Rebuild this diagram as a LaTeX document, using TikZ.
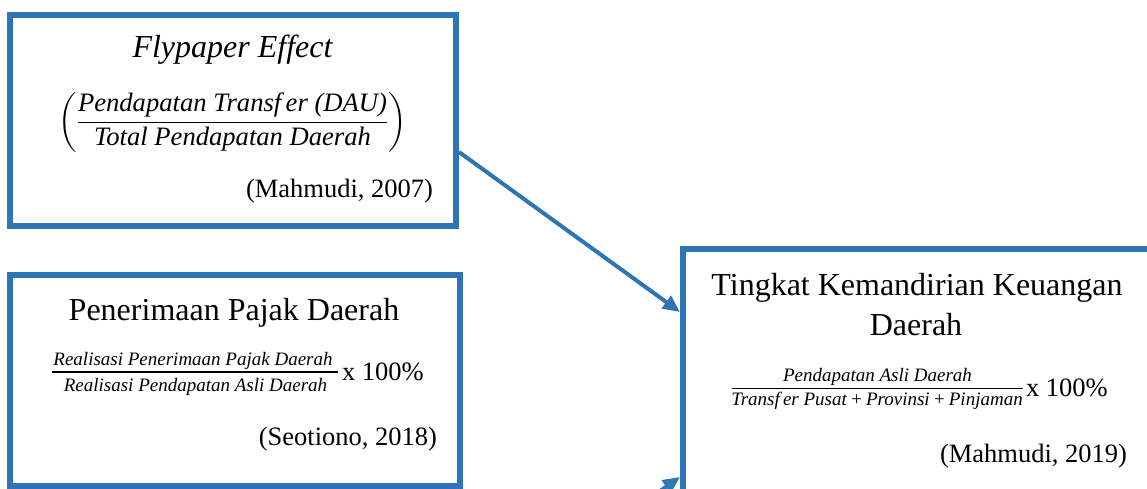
\documentclass[tikz,border=0pt]{standalone}
\usepackage{amsmath}
\usepackage{fontspec}
\setmainfont{Liberation Serif}
\usetikzlibrary{arrows.meta}
\definecolor{bblue}{HTML}{2E75B6}
\newcommand\ttlfont{\fontsize{32}{40}\selectfont}
\newcommand\citfont{\fontsize{26.5}{32}\selectfont}
\newcommand\smallfrm{\fontsize{19}{23}\selectfont\itshape}
\newcommand\pctfont{\fontsize{26.5}{32}\selectfont}
\tikzset{
  boxnode/.style={draw=bblue, line width=6pt, inner sep=0pt, fill=white},
  txt/.style={inner sep=0pt, outer sep=0pt},
  fterm/.style={txt, anchor=base, font=\smallfrm},
  fbar/.style={draw=black, line width=1.1pt},
  arr/.style={draw=bblue, line width=4pt, -{Triangle[length=17pt,width=15pt]}}
}
\begin{document}
\begin{tikzpicture}[x=1pt,y=-1pt]
\useasboundingbox (0,0) rectangle (1147,489);
\clip (0,0) rectangle (1147,489);
% boxes
\node[boxnode, minimum width=446pt, minimum height=211pt] (b1) at (233,120.5) {};
\node[boxnode, minimum width=450pt, minimum height=211pt] (b2) at (235,380.5) {};
\node[boxnode, minimum width=507pt, minimum height=280pt] (b3) at (936.5,389) {};
% box 1
\node[txt, anchor=base] (t1) at (232.5,58) {\ttlfont\itshape Flypaper Effect};
\node[txt, anchor=center] (f1) at (232.5,122) {\fontsize{26.6}{32}\selectfont
  $\left(\dfrac{\text{\itshape Pendapatan Transf\,er (DAU)}}{\text{\itshape Total Pendapatan Daerah}}\right)$};
\node[txt, anchor=base east] (c1) at (433,197) {\citfont (Mahmudi, 2007)};
% box 2
\node[txt, anchor=base] (t2) at (234,320) {\ttlfont Penerimaan Pajak Daerah};
\node[fterm] (n2) at (193,365) {Realisasi Penerimaan Pajak Daerah};
\node[fterm] (d2) at (195.5,391) {Realisasi Pendapatan Asli Daerah};
\draw[fbar] (52,372) -- (338,372);
\node[txt, anchor=base west] (p2) at (342,380) {\pctfont x 100\%};
\node[txt, anchor=base east] (c2) at (437,445) {\citfont (Seotiono, 2018)};
% box 3
\node[txt, anchor=base] (t3a) at (917,295) {\ttlfont Tingkat Kemandirian Keuangan};
\node[txt, anchor=base] (t3b) at (916,335) {\ttlfont Daerah};
\node[fterm] (n3) at (877.5,381) {Pendapatan Asli Daerah};
\node[fterm] (d3) at (877,405) {Transf\,er Pusat\,+\,Provinsi\,+\,Pinjaman};
\draw[fbar] (732,388.5) -- (1023,388.5);
\node[txt, anchor=base west] (p3) at (1026,396) {\pctfont x 100\%};
\node[txt, anchor=base east] (c3) at (1127,462) {\citfont (Mahmudi, 2019)};
% arrows
\draw[arr] ([yshift=-31.5pt]b1.east) -- ([yshift=77pt]b3.west);
\draw[arr] ([yshift=-248.5pt]b2.east) -- ([yshift=-88pt]b3.west);
\end{tikzpicture}
\end{document}
